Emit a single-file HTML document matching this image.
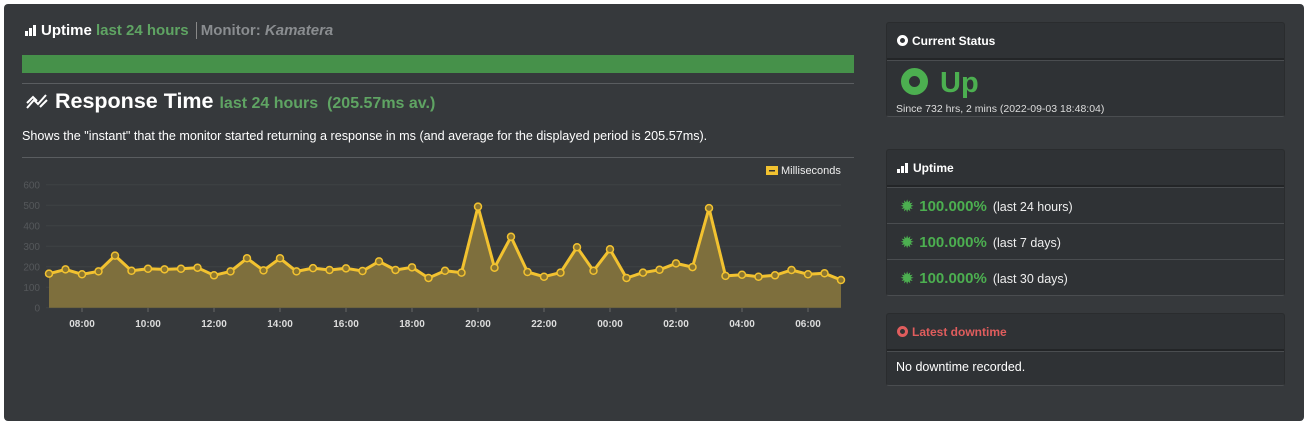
<!DOCTYPE html>
<html><head><meta charset="utf-8"><style>
*{box-sizing:border-box;margin:0;padding:0}
body{width:1309px;height:426px;background:#fff;font-family:"Liberation Sans",sans-serif;position:relative;overflow:hidden}
.panel{position:absolute;left:4px;top:4px;width:1300px;height:417px;background:#36393c;border-radius:4px}
.t{position:absolute;white-space:nowrap}
.card{position:absolute;left:886px;width:399px;background:#2f3235;border:1px solid #2a2c2e;border-bottom-color:#4a4d50;border-radius:3px}
.hd{height:37px;border-bottom:2px solid #232527;box-shadow:0 1px 0 #4a4d50;color:#fff;font-weight:bold;font-size:12px;padding:11px 0 0 10px}
.row{height:36px;border-top:1px solid #4a4d50;padding:9px 0 0 13px;font-size:12.5px;color:#eee}
.row:first-of-type{border-top:none}
.g{color:#4caf50;font-weight:bold;font-size:15px;margin:0 6px 0 5px}
.st{color:#4caf50;font-size:17px;vertical-align:-1px}
</style></head><body>
<div class="panel"></div>
<div class="t" style="left:25px;top:22px;font-size:15px;font-weight:bold;color:#fff">
<span style="display:inline-block;width:16px;height:11px;vertical-align:-1px;position:relative"><i style="position:absolute;left:0;bottom:0;width:3px;height:5px;background:#fff"></i><i style="position:absolute;left:4px;bottom:0;width:3px;height:8px;background:#fff"></i><i style="position:absolute;left:8px;bottom:0;width:3px;height:11px;background:#fff"></i></span>Uptime <span style="color:#5fa463">last 24 hours</span> <span style="border-left:1px solid #888;margin-left:3px;padding-left:4px;color:#8a8d90">Monitor: <i>Kamatera</i></span></div>
<div class="t" style="left:22px;top:55px;width:832px;height:18px;background:#46914a"></div>
<div class="t" style="left:22px;top:83px;width:832px;height:1px;background:#5a5d60"></div>
<div class="t" style="left:25px;top:89px;font-size:21.5px;font-weight:bold;color:#fff">
<svg width="24" height="18" style="vertical-align:-2px" viewBox="0 0 24 18"><path d="M2 16 L9 8 L13 12 L21 3 M2 11 L8 5 L12 9 M15 15 L22 8" stroke="#fff" stroke-width="2" fill="none"/></svg> Response Time <span style="color:#5fa463;font-size:16px">last 24 hours &nbsp;(205.57ms av.)</span></div>
<div class="t" style="left:22px;top:129px;font-size:12.6px;color:#fff">Shows the "instant" that the monitor started returning a response in ms (and average for the displayed period is 205.57ms).</div>
<div class="t" style="left:22px;top:157px;width:832px;height:1px;background:#5a5d60"></div>
<svg class="t" style="left:0;top:0" width="870" height="340" id="ch"></svg>
<div class="card" style="top:22px;height:95px"><div class="hd"><span style="display:inline-block;width:11px;height:11px;border-radius:50%;border:3px solid #fff;background:#2f3235;vertical-align:-1px;margin-right:4px"></span>Current Status</div>
<div style="padding:7px 0 0 14px"><span style="display:inline-block;width:27px;height:27px;border-radius:50%;border:8px solid #4caf50;vertical-align:-3px"></span><span style="color:#4caf50;font-weight:bold;font-size:29px;margin-left:12px">Up</span></div>
<div style="font-size:10.5px;color:#ddd;padding:3px 0 0 9px">Since 732 hrs, 2 mins (2022-09-03 18:48:04)</div></div>
<div class="card" style="top:149px;height:147px"><div class="hd"><span style="display:inline-block;width:12px;height:10px;position:relative;vertical-align:-1px;margin-right:4px"><i style="position:absolute;left:0;bottom:0;width:3px;height:4px;background:#fff"></i><i style="position:absolute;left:4px;bottom:0;width:3px;height:7px;background:#fff"></i><i style="position:absolute;left:8px;bottom:0;width:3px;height:10px;background:#fff"></i></span>Uptime</div>
<div class="row"><span class="st">✹</span><span class="g">100.000%</span>(last 24 hours)</div>
<div class="row"><span class="st">✹</span><span class="g">100.000%</span>(last 7 days)</div>
<div class="row"><span class="st">✹</span><span class="g">100.000%</span>(last 30 days)</div></div>
<div class="card" style="top:313px;height:73px"><div class="hd" style="color:#e05d5d"><span style="display:inline-block;width:11px;height:11px;border-radius:50%;border:3px solid #e05d5d;background:#2f3235;vertical-align:-1px;margin-right:4px"></span>Latest downtime</div>
<div style="font-size:12.5px;color:#fff;padding:9px 0 0 9px">No downtime recorded.</div></div>
<script>
var v=[166,187,163,177,254,180,190,187,190,195,158,177,241,182,241,177,193,184,192,179,226,184,197,145,180,171,493,195,346,174,151,171,295,180,285,145,171,185,216,198,486,155,161,151,158,184,163,168,135];
var s='',y0=307.7,k=0.205;
for(var i=0;i<=6;i++){var y=y0-i*100*k;s+='<line x1="46" x2="841" y1="'+y+'" y2="'+y+'" stroke="#3f4245"/><text x="40" y="'+(y+4)+'" text-anchor="end" font-size="10" fill="#55585b" font-family="Liberation Sans">'+(i*100)+'</text>';}
var p=[];for(i=0;i<v.length;i++)p.push([49+i*16.5,y0-v[i]*k]);
var d='M'+p.map(function(a){return a[0].toFixed(1)+','+a[1].toFixed(1)}).join(' L');
s+='<path d="'+d+' L841,'+y0+' L49,'+y0+'Z" fill="#7e6f3d"/>';
s+='<path d="'+d+'" stroke="#f2c230" stroke-width="3" fill="none" stroke-linejoin="round"/>';
p.forEach(function(a){s+='<circle cx="'+a[0]+'" cy="'+a[1]+'" r="3.5" fill="#8a7530" stroke="#f2c230" stroke-width="1.5"/>';});
var L=['08:00','10:00','12:00','14:00','16:00','18:00','20:00','22:00','00:00','02:00','04:00','06:00'];
L.forEach(function(t,j){var x=82+j*66;s+='<line x1="'+x+'" x2="'+x+'" y1="308" y2="312" stroke="#666"/><text x="'+x+'" y="327" text-anchor="middle" font-size="10" font-weight="bold" fill="#ddd" font-family="Liberation Sans">'+t+'</text>';});
s+='<rect x="766" y="166" width="12" height="9" fill="#f2c230"/><rect x="769" y="170" width="6" height="1.5" fill="#333"/><text x="781" y="174" font-size="11" fill="#eee" font-family="Liberation Sans">Milliseconds</text>';
document.getElementById('ch').innerHTML=s;
</script>
</body></html>
